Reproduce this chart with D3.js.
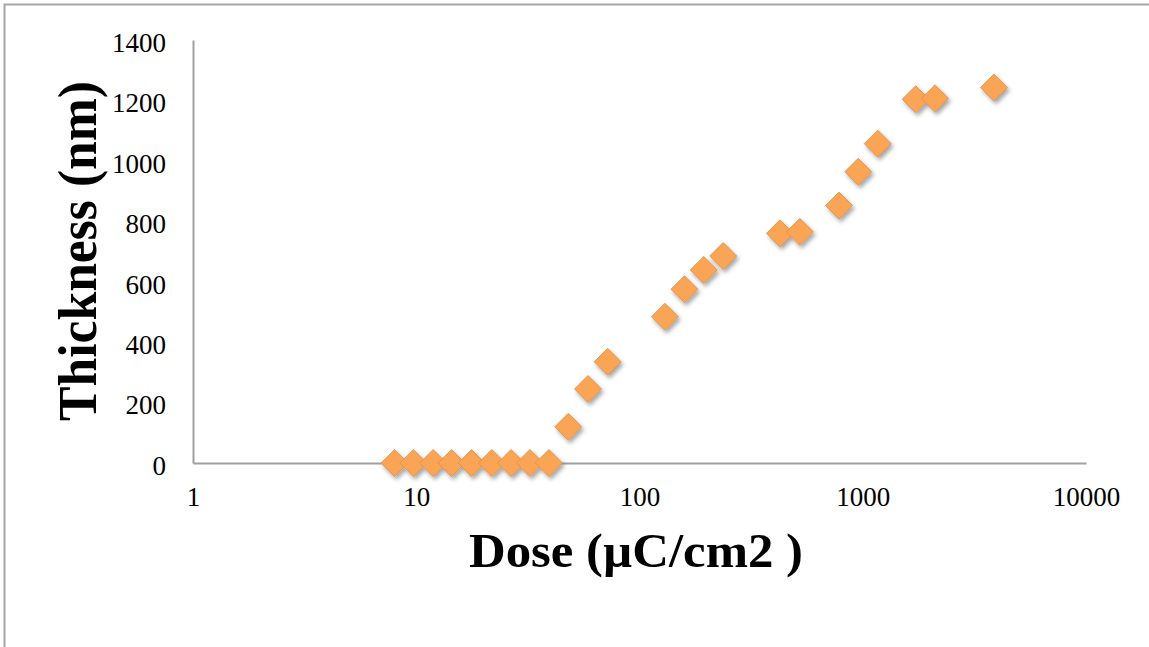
<!DOCTYPE html>
<html>
<head>
<meta charset="utf-8">
<script src="https://cdn.jsdelivr.net/npm/d3@7"></script>
<style>
  html, body { margin: 0; padding: 0; background: #fff; }
  svg { display: block; }
</style>
</head>
<body>
<script>
// ---- data ----
const doses = [8, 9.7, 11.9, 14.4, 17.7, 21.8, 26.6, 32.3, 39.3, 48, 58.8, 72, 130, 159, 194, 237, 426, 523, 783, 955, 1167, 1727, 2107, 3872];
const thickness = [0, 0, 0, 0, 0, 0, 0, 0, 0, 120, 245, 335, 484, 575, 639, 685, 760, 765, 852, 964, 1057, 1204, 1207, 1243];
const xTicks = [1, 10, 100, 1000, 10000];
const yTicks = [0, 200, 400, 600, 800, 1000, 1200, 1400];
const xTitle = "Dose (µC/cm2 )";
const yTitle = "Thickness (nm)";

const W = 1149, H = 647;
const svg = d3.select("body").append("svg").attr("width", W).attr("height", H);

const defs = svg.append("defs");
const f = defs.append("filter").attr("id", "shadow").attr("x", "-50%").attr("y", "-50%").attr("width", "200%").attr("height", "200%");
f.append("feDropShadow").attr("dx", 2).attr("dy", 3).attr("stdDeviation", 2.2).attr("flood-color", "#000").attr("flood-opacity", 0.35);

// frame
svg.append("rect").attr("x", 4.5).attr("y", 4.5).attr("width", W + 10).attr("height", H + 10)
  .attr("fill", "none").attr("stroke", "#a6a6a6").attr("stroke-width", 2);

const x = d3.scaleLog().domain([1, 10000]).range([193, 1086]);
const y = d3.scaleLinear().domain([0, 1400]).range([463, 40]);

const tickFont = "'Liberation Serif', 'Times New Roman', serif";

// y axis
const yAxis = svg.append("g").attr("transform", "translate(193,0)")
  .call(d3.axisLeft(y).tickValues(yTicks).tickSize(0).tickPadding(27).tickFormat(d3.format("d")));
yAxis.select(".domain").attr("stroke", "#a0a0a0").attr("stroke-width", 2);
yAxis.selectAll("text").attr("font-family", tickFont).attr("font-size", 27).attr("fill", "#000").attr("dy", "0.42em");

// x axis
const xAxis = svg.append("g").attr("transform", "translate(0,463)")
  .call(d3.axisBottom(x).tickValues(xTicks).tickSize(0).tickPadding(24).tickFormat(d3.format("d")));
xAxis.select(".domain").attr("stroke", "#a0a0a0").attr("stroke-width", 2);
xAxis.selectAll("text").attr("font-family", tickFont).attr("font-size", 27).attr("fill", "#000");

// titles
svg.append("text").attr("x", 636).attr("y", 567).attr("text-anchor", "middle")
  .attr("font-family", tickFont).attr("font-weight", "bold").attr("font-size", 48)
  .attr("textLength", 334).attr("lengthAdjust", "spacingAndGlyphs")
  .text(xTitle);
svg.append("text").attr("transform", "translate(96,251) rotate(-90)").attr("text-anchor", "middle")
  .attr("font-family", tickFont).attr("font-weight", "bold").attr("font-size", 54)
  .attr("textLength", 340).attr("lengthAdjust", "spacingAndGlyphs")
  .text(yTitle);

// markers
const pts = doses.map((d, i) => ({ d, t: thickness[i] }));
svg.append("g").attr("filter", "url(#shadow)")
  .selectAll("path").data(pts).join("path")
  .attr("transform", p => `translate(${x(p.d)},${y(p.t)})`)
  .attr("d", "M0,-13.5L13.5,0L0,13.5L-13.5,0Z")
  .attr("fill", "#f9a555").attr("stroke", "#e08b45").attr("stroke-width", 0.8);
</script>
</body>
</html>
